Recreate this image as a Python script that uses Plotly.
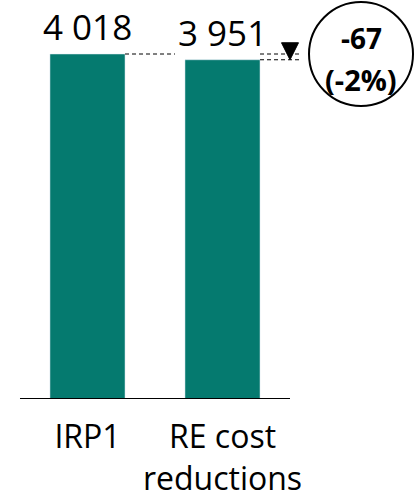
import plotly.graph_objects as go

categories = ["IRP1", "RE cost<br>reductions"]
values = [4018, 3951]
bar_color = "#057A6F"

diff = values[1] - values[0]
pct = round(diff / values[0] * 100)

def fmt(v):
    return f"{v:,}".replace(",", " ")

FONT = "Open Sans"
xs = [0, 1]
fig = go.Figure()
fig.add_trace(go.Bar(
    x=xs, y=values, width=0.556, marker_color=bar_color,
    cliponaxis=False, hoverinfo="skip",
))

shapes = []
# baseline
shapes.append(dict(type="line", x0=-0.5, x1=1.5, y0=0, y1=0, xref="x", yref="y",
                   line=dict(color="#000", width=2)))
dash = dict(color="#000", width=1, dash="4px,3px")
# dashed connector from bar1 top to bar2
shapes.append(dict(type="line", x0=0.278, x1=0.648, y0=values[0], y1=values[0],
                   xref="x", yref="y", line=dash))
# dashed lines to the right of bar2 at both levels
for v in values:
    shapes.append(dict(type="line", x0=1.278, x1=1.574, y0=v, y1=v,
                       xref="x", yref="y", line=dash))
# triangle pointing down, tip at lower level
shapes.append(dict(type="path", xref="x", yref="y", xsizemode="pixel", ysizemode="pixel",
                   xanchor=1.5, yanchor=values[1],
                   path="M -8.5 17 L 8.5 17 L 0 0 Z",
                   fillcolor="#000", line=dict(color="#000", width=1)))
# circle
shapes.append(dict(type="circle", xref="x", yref="y", xsizemode="pixel", ysizemode="pixel",
                   xanchor=2.026, yanchor=values[0],
                   x0=-52, x1=52, y0=-52, y1=52,
                   line=dict(color="#000", width=2), fillcolor="rgba(0,0,0,0)"))

annotations = [
    dict(x=xi, y=v, xref="x", yref="y", text=fmt(v), showarrow=False,
         yanchor="bottom", yshift=2, font=dict(family=FONT, size=35, color="#000"))
    for xi, v in zip(xs, values)
]
annotations += [
    dict(x=2.026, y=values[0], xref="x", yref="y", text=f"<b>{diff}</b>", showarrow=False,
         yshift=16, font=dict(family=FONT, size=28, color="#000")),
    dict(x=2.026, y=values[0], xref="x", yref="y", text=f"<b>({pct}%)</b>", showarrow=False,
         yshift=-25, font=dict(family=FONT, size=29, color="#000")),
]

fig.update_layout(
    width=416, height=498,
    margin=dict(l=0, r=0, t=0, b=99, pad=0),
    paper_bgcolor="white", plot_bgcolor="white",
    showlegend=False, bargap=0,
    shapes=shapes, annotations=annotations,
    xaxis=dict(range=[-0.6481, 2.4333], tickvals=xs, ticktext=categories,
               showgrid=False, zeroline=False, showline=False, ticks="",
               ticklabelstandoff=16,
               tickfont=dict(family=FONT, size=32, color="#000")),
    yaxis=dict(range=[0, 4646.9], visible=False, fixedrange=True),
)
fig.write_html("out.html", config={"displayModeBar": False, "staticPlot": True},
               post_script="document.body.style.margin='0';")
